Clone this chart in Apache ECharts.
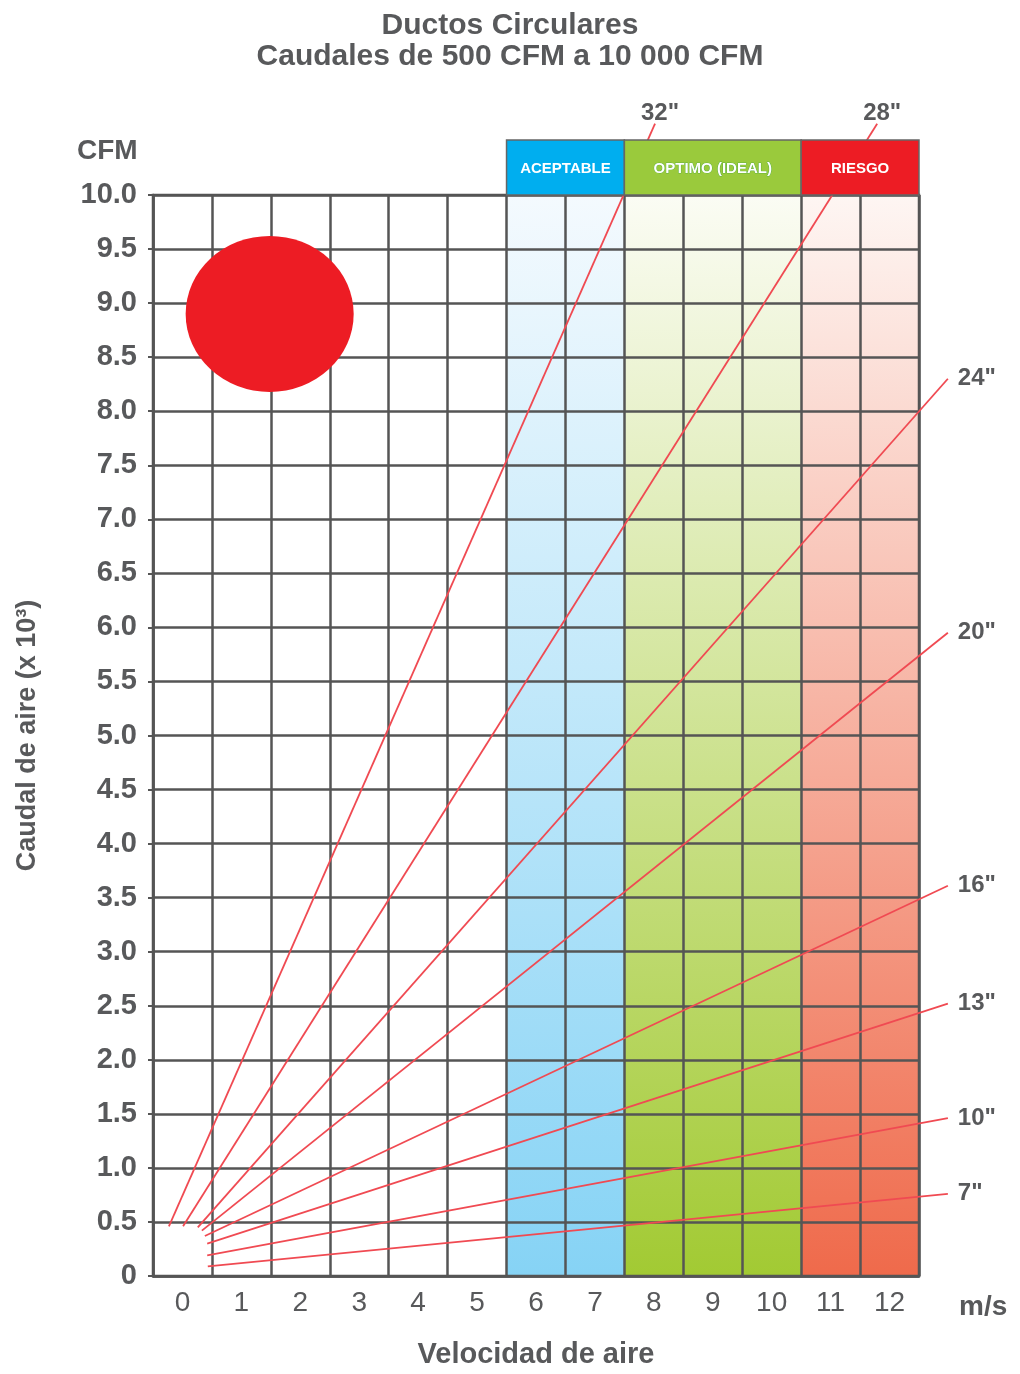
<!DOCTYPE html>
<html>
<head>
<meta charset="utf-8">
<script src="https://cdn.jsdelivr.net/npm/echarts@6/dist/echarts.min.js"></script>
<style>html,body{margin:0;padding:0;background:#fff}#c{width:1020px;height:1374px}</style>
</head>
<body>
<div id="c"></div>
<script>
// ---- data ----
var velocityLabels = ['0','1','2','3','4','5','6','7','8','9','10','11','12'];
var lineNames = ['32"','28"','24"','20"','16"','13"','10"','7"'];
var startV = [-0.23, 0.01, 0.26, 0.33, 0.38, 0.42, 0.42, 0.43];
var startQ = [0.46, 0.46, 0.45, 0.42, 0.37, 0.30, 0.19, 0.09];
var endV   = [8.02, 11.79, 12.99, 12.99, 12.99, 12.99, 12.99, 12.99];
var endQ   = [10.66, 10.66, 8.30, 5.95, 3.61, 2.52, 1.46, 0.76];
var bandNames = ['ACEPTABLE', 'OPTIMO (IDEAL)', 'RIESGO'];
var bandFrom = [5.5, 7.5, 10.5];
var bandTo   = [7.5, 10.5, 12.5];
var circleCenter = [1.48, 8.9];

// ---- styles ----
var gray = '#58595b';
var gridColor = '#555555';
var bandTop = ['#f4fafe', '#fbfcf4', '#fef6f3'];
var bandBottom = ['#86d3f5', '#a2ca33', '#ef6a4b'];
var headColor = ['#00aeef', '#9aca3c', '#ed1c24'];
var lineColor = '#f04a52';
var FONT = 'Liberation Sans, Arial, sans-serif';

var chart = echarts.init(document.getElementById('c'), null, {renderer: 'canvas'});

var bandData = bandNames.map(function (n, i) { return [bandFrom[i], bandTo[i], i]; });
var lineData = lineNames.map(function (n, i) { return [startV[i], startQ[i], endV[i], endQ[i], i]; });

var series = [];
series.push({
  type: 'custom', xAxisIndex: 1, yAxisIndex: 0, z: -1, silent: true, clip: false,
  data: bandData,
  renderItem: function (params, api) {
    var i = api.value(2);
    var p0 = api.coord([api.value(0), 10]);
    var p1 = api.coord([api.value(1), 0]);
    return {
      type: 'rect',
      shape: {x: p0[0], y: p0[1], width: p1[0] - p0[0], height: p1[1] - p0[1]},
      style: {fill: new echarts.graphic.LinearGradient(0, 0, 0, 1, [
        {offset: 0, color: bandTop[i]}, {offset: 1, color: bandBottom[i]}])}
    };
  }
});
series.push({
  type: 'custom', xAxisIndex: 1, yAxisIndex: 0, z: 4, silent: true, clip: false,
  data: lineData,
  renderItem: function (params, api) {
    var i = api.value(4);
    var a = api.coord([api.value(0), api.value(1)]);
    var b = api.coord([api.value(2), api.value(3)]);
    var top = i < 2;
    return {
      type: 'group',
      children: [{
        type: 'line',
        shape: {x1: a[0], y1: a[1], x2: b[0], y2: b[1]},
        style: {stroke: lineColor, lineWidth: 1.8}
      }, {
        type: 'text',
        style: {
          text: lineNames[i],
          x: top ? b[0] + 5 : b[0] + 10,
          y: top ? b[1] + 2 : b[1],
          align: top ? 'center' : 'left',
          verticalAlign: top ? 'bottom' : 'middle',
          fill: gray, font: 'bold 24px ' + FONT
        }
      }]
    };
  }
});
series.push({
  type: 'custom', xAxisIndex: 1, yAxisIndex: 0, z: 10, silent: true, clip: false,
  data: bandData,
  renderItem: function (params, api) {
    var i = api.value(2);
    var p0 = api.coord([api.value(0), 10]);
    var p1 = api.coord([api.value(1), 10]);
    var h = 55;
    return {
      type: 'group',
      children: [{
        type: 'rect',
        shape: {x: p0[0], y: p0[1] - h, width: p1[0] - p0[0], height: h},
        style: {fill: headColor[i], stroke: '#666', lineWidth: 1.5}
      }, {
        type: 'text',
        style: {
          text: bandNames[i], x: (p0[0] + p1[0]) / 2, y: p0[1] - h / 2 + 1,
          align: 'center', verticalAlign: 'middle', fill: '#fff',
          font: 'bold 15px ' + FONT,
          stroke: i === 1 ? '#3aa040' : null, lineWidth: i === 1 ? 0.6 : 0
        }
      }]
    };
  }
});
series.push({
  type: 'scatter', xAxisIndex: 1, yAxisIndex: 0, z: 5, silent: true,
  symbol: 'circle', symbolSize: [168, 156],
  itemStyle: {color: '#ed1c24', opacity: 1},
  data: [circleCenter]
});

chart.setOption({
  animation: false,
  backgroundColor: '#fff',
  title: [{
    text: 'Ductos Circulares\nCaudales de 500 CFM a 10 000 CFM',
    left: 'center', top: 5,
    textStyle: {color: gray, fontSize: 30, fontWeight: 'bold', fontFamily: FONT, lineHeight: 31}
  }, {
    text: 'CFM', left: 72, top: 132,
    textStyle: {color: gray, fontSize: 28, fontWeight: 'bold', fontFamily: FONT}
  }, {
    text: 'm/s', left: 954, top: 1288,
    textStyle: {color: gray, fontSize: 28, fontWeight: 'bold', fontFamily: FONT}
  }],
  grid: {left: 153, right: 101, top: 195, bottom: 94, show: true, borderColor: gridColor, borderWidth: 2.5, backgroundColor: 'transparent'},
  xAxis: [{
    type: 'category', data: velocityLabels, boundaryGap: true,
    name: 'Velocidad de aire', nameLocation: 'middle', nameGap: 64,
    nameTextStyle: {color: gray, fontSize: 29, fontWeight: 'bold', fontFamily: FONT},
    axisLine: {show: true, onZero: false, lineStyle: {color: gridColor, width: 2.5}},
    axisTick: {show: false},
    axisLabel: {color: gray, fontSize: 28, fontFamily: FONT, margin: 13},
    splitLine: {show: true, lineStyle: {color: gridColor, width: 2.5}}
  }, {
    type: 'value', min: -0.5, max: 12.5, show: false
  }],
  yAxis: [{
    type: 'value', min: 0, max: 10, interval: 0.5,
    name: 'Caudal de aire (x 10³)', nameLocation: 'middle', nameGap: 112, nameRotate: 90,
    nameTextStyle: {color: gray, fontSize: 27, fontWeight: 'bold', fontFamily: FONT},
    axisLine: {show: true, onZero: false, lineStyle: {color: gridColor, width: 2.5}},
    axisTick: {show: true, length: 5, lineStyle: {color: gridColor, width: 2}},
    axisLabel: {color: gray, fontSize: 29, fontWeight: 'bold', fontFamily: FONT, margin: 16,
      formatter: function (v) { return v === 0 ? '0' : v.toFixed(1); }},
    splitLine: {show: true, lineStyle: {color: gridColor, width: 2.5}}
  }],
  series: series
});
</script>
</body>
</html>
